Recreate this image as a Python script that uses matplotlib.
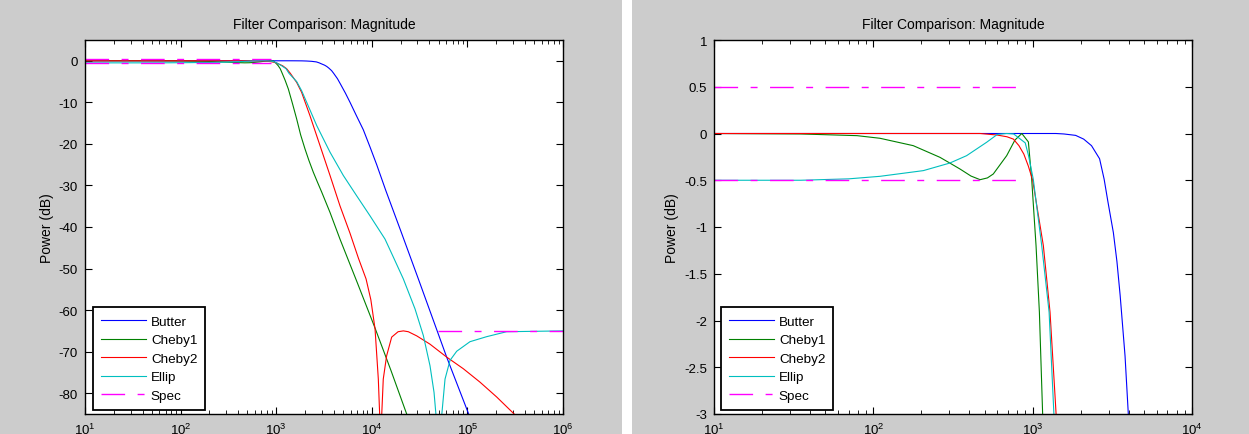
import matplotlib
matplotlib.use('Agg')
import matplotlib.pyplot as plt
from matplotlib.patches import Rectangle
from matplotlib.ticker import NullFormatter

plt.rcParams['font.family'] = ['Liberation Sans', 'DejaVu Sans']
plt.rcParams['mathtext.fontset'] = 'custom'
plt.rcParams['mathtext.rm'] = 'Liberation Sans'
plt.rcParams['axes.unicode_minus'] = False

# frequency (Hz) / power (dB)
butter_f = [10, 1400, 1570, 1860, 2090, 2340, 2630, 2810, 2960, 3210,
            3380, 3540, 3800, 3990, 4370, 4700, 5300, 5920, 6900, 8150,
            9600, 11250, 14000, 20510, 30690, 60670, 104700, 125900]
butter_db = [0, 0, -0.005, -0.02, -0.06, -0.13, -0.27, -0.49, -0.72, -1.06,
             -1.37, -1.73, -2.38, -3.02, -4.3, -5.6, -7.8, -10.0, -13.2, -16.6,
             -20.8, -25.0, -31.2, -41.5, -52.5, -71.3, -85.4, -90.3]

cheby1_f = [10, 35, 79, 110, 178, 262, 302, 350, 410, 468,
            520, 566, 687, 774, 855, 940, 986, 1050, 1102, 1156,
            1240, 1340, 1480, 1637, 1800, 2000, 2200, 2443, 2700, 2992,
            3656, 4645, 7079, 10720, 15850, 23500, 28180]
cheby1_db = [0, -0.005, -0.023, -0.051, -0.13, -0.255, -0.316, -0.38, -0.455, -0.494,
             -0.475, -0.433, -0.237, -0.07, 0, -0.09, -0.49, -1.2, -1.91, -3.02,
             -4.7, -6.8, -10.3, -14.0, -17.8, -21.2, -24.0, -26.8, -29.2, -31.6,
             -36.5, -42.9, -53.5, -64.1, -74.5, -85.4, -90]

cheby2_f = [10, 468, 596, 690, 757, 820, 880, 940, 1000, 1167,
            1285, 1403, 1637, 1845, 2254, 2871, 3656, 4645, 5916, 7244,
            8710, 9772, 10810, 11700, 12080, 12390, 12710, 13180, 14290, 16140,
            18840, 21380, 24100, 29510, 40640, 60670, 90570, 134900, 202300, 314800,
            354800]
cheby2_db = [0, 0, -0.016, -0.035, -0.06, -0.13, -0.22, -0.35, -0.5, -1.2,
             -1.91, -3.0, -5.2, -7.6, -13.2, -20.4, -27.6, -34.9, -41.5, -47.5,
             -52.5, -57.5, -64.5, -76.6, -85, -110, -85, -76.6, -71, -66.5,
             -65.2, -65.0, -65.2, -66.2, -68.2, -71.3, -74.1, -77.3, -80.9, -85.2,
             -86.4]

ellip_f = [10, 35, 70, 110, 206, 302, 385, 514, 600, 687,
           760, 898, 942, 1009, 1140, 1268, 1361, 1637, 1845, 2084,
           2655, 3656, 5035, 6950, 9572, 13740, 17000, 21380, 28310, 34590,
           40640, 44770, 46990, 50120, 53830, 58340, 65770, 77270, 106400, 158500,
           257000, 1000000]
ellip_db = [-0.5, -0.5, -0.485, -0.458, -0.397, -0.316, -0.237, -0.094, -0.01, 0,
            -0.005, -0.10, -0.237, -0.49, -1.2, -1.91, -3.02, -5.0, -7.2, -10.0,
            -15.6, -22.0, -27.6, -32.5, -37.3, -42.9, -47.5, -52.5, -59.7, -66.1,
            -73.4, -79.8, -85.4, -110, -85.4, -76.6, -72.1, -69.9, -67.6, -66.4,
            -65.2, -65.0]

nan = float('nan')
spec_f = [10, 880, nan, 10, 880, nan, 49000, 1000000]
spec_db = [0.5, 0.5, nan, -0.5, -0.5, nan, -65, -65]

left_yticks = [0, -10, -20, -30, -40, -50, -60, -70, -80]
left_ylabels = ['0', '-10', '-20', '-30', '-40', '-50', '-60', '-70', '-80']
right_yticks = [1, 0.5, 0, -0.5, -1, -1.5, -2, -2.5, -3]
right_ylabels = ['1', '0.5', '0', '-0.5', '-1', '-1.5', '-2', '-2.5', '-3']

W, H = 1249, 435


def panel(ax, xlim, ylim, yticks, ylabels, label_x, leg_x):
    ax.plot(butter_f, butter_db, color='#0000ff', lw=0.8, label='Butter')
    ax.plot(cheby1_f, cheby1_db, color='#008000', lw=0.8, label='Cheby1')
    ax.plot(cheby2_f, cheby2_db, color='#ff0000', lw=0.8, label='Cheby2')
    ax.plot(ellip_f, ellip_db, color='#00bfbf', lw=0.8, label='Ellip')
    ax.plot(spec_f, spec_db, color='#ff00ff', lw=1.0, dashes=(17, 9, 5, 9), label='Spec')
    ax.set_xscale('log')
    ax.set_xlim(xlim)
    ax.set_ylim(ylim)
    ax.set_yticks(yticks)
    ax.set_yticklabels(ylabels)
    ax.xaxis.set_minor_formatter(NullFormatter())
    ax.tick_params(which='both', direction='in', top=True, right=True, labelsize=9.5)
    ax.tick_params(which='major', length=5, width=0.8)
    ax.tick_params(which='minor', length=3, width=0.6)
    ax.tick_params(axis='x', pad=5.5)
    ax.tick_params(axis='y', pad=5)
    for s in ax.spines.values():
        s.set_linewidth(1.0)
    ax.set_title('Filter Comparison: Magnitude', fontsize=10, pad=9)
    ax.set_ylabel('Power (dB)', fontsize=10)
    ax.yaxis.set_label_coords(label_x, 0.5)
    leg = ax.legend(loc='lower left', bbox_to_anchor=(leg_x, 0.0107), borderaxespad=0,
                    fontsize=9.7, handlelength=3.3, handletextpad=0.4, labelspacing=0.45,
                    borderpad=0.6, fancybox=False, framealpha=1, edgecolor='black')
    leg.get_frame().set_linewidth(1.3)


fig = plt.figure(figsize=(W / 100, H / 100), dpi=100, facecolor='#cccccc')
fig.add_artist(Rectangle((622 / W, 0), 10 / W, 1, transform=fig.transFigure,
                         facecolor='white', edgecolor='none', zorder=-1))

ax1 = fig.add_axes([85 / W, 20 / H, 478 / W, 374 / H])
panel(ax1, (10, 1e6), (-85, 5), left_yticks, left_ylabels, -0.065, 0.0167)

ax2 = fig.add_axes([714 / W, 20 / H, 478 / W, 374 / H])
panel(ax2, (10, 1e4), (-3, 1), right_yticks, right_ylabels, -0.074, 0.0146)

fig.savefig('out.png', dpi=100, facecolor=fig.get_facecolor())
